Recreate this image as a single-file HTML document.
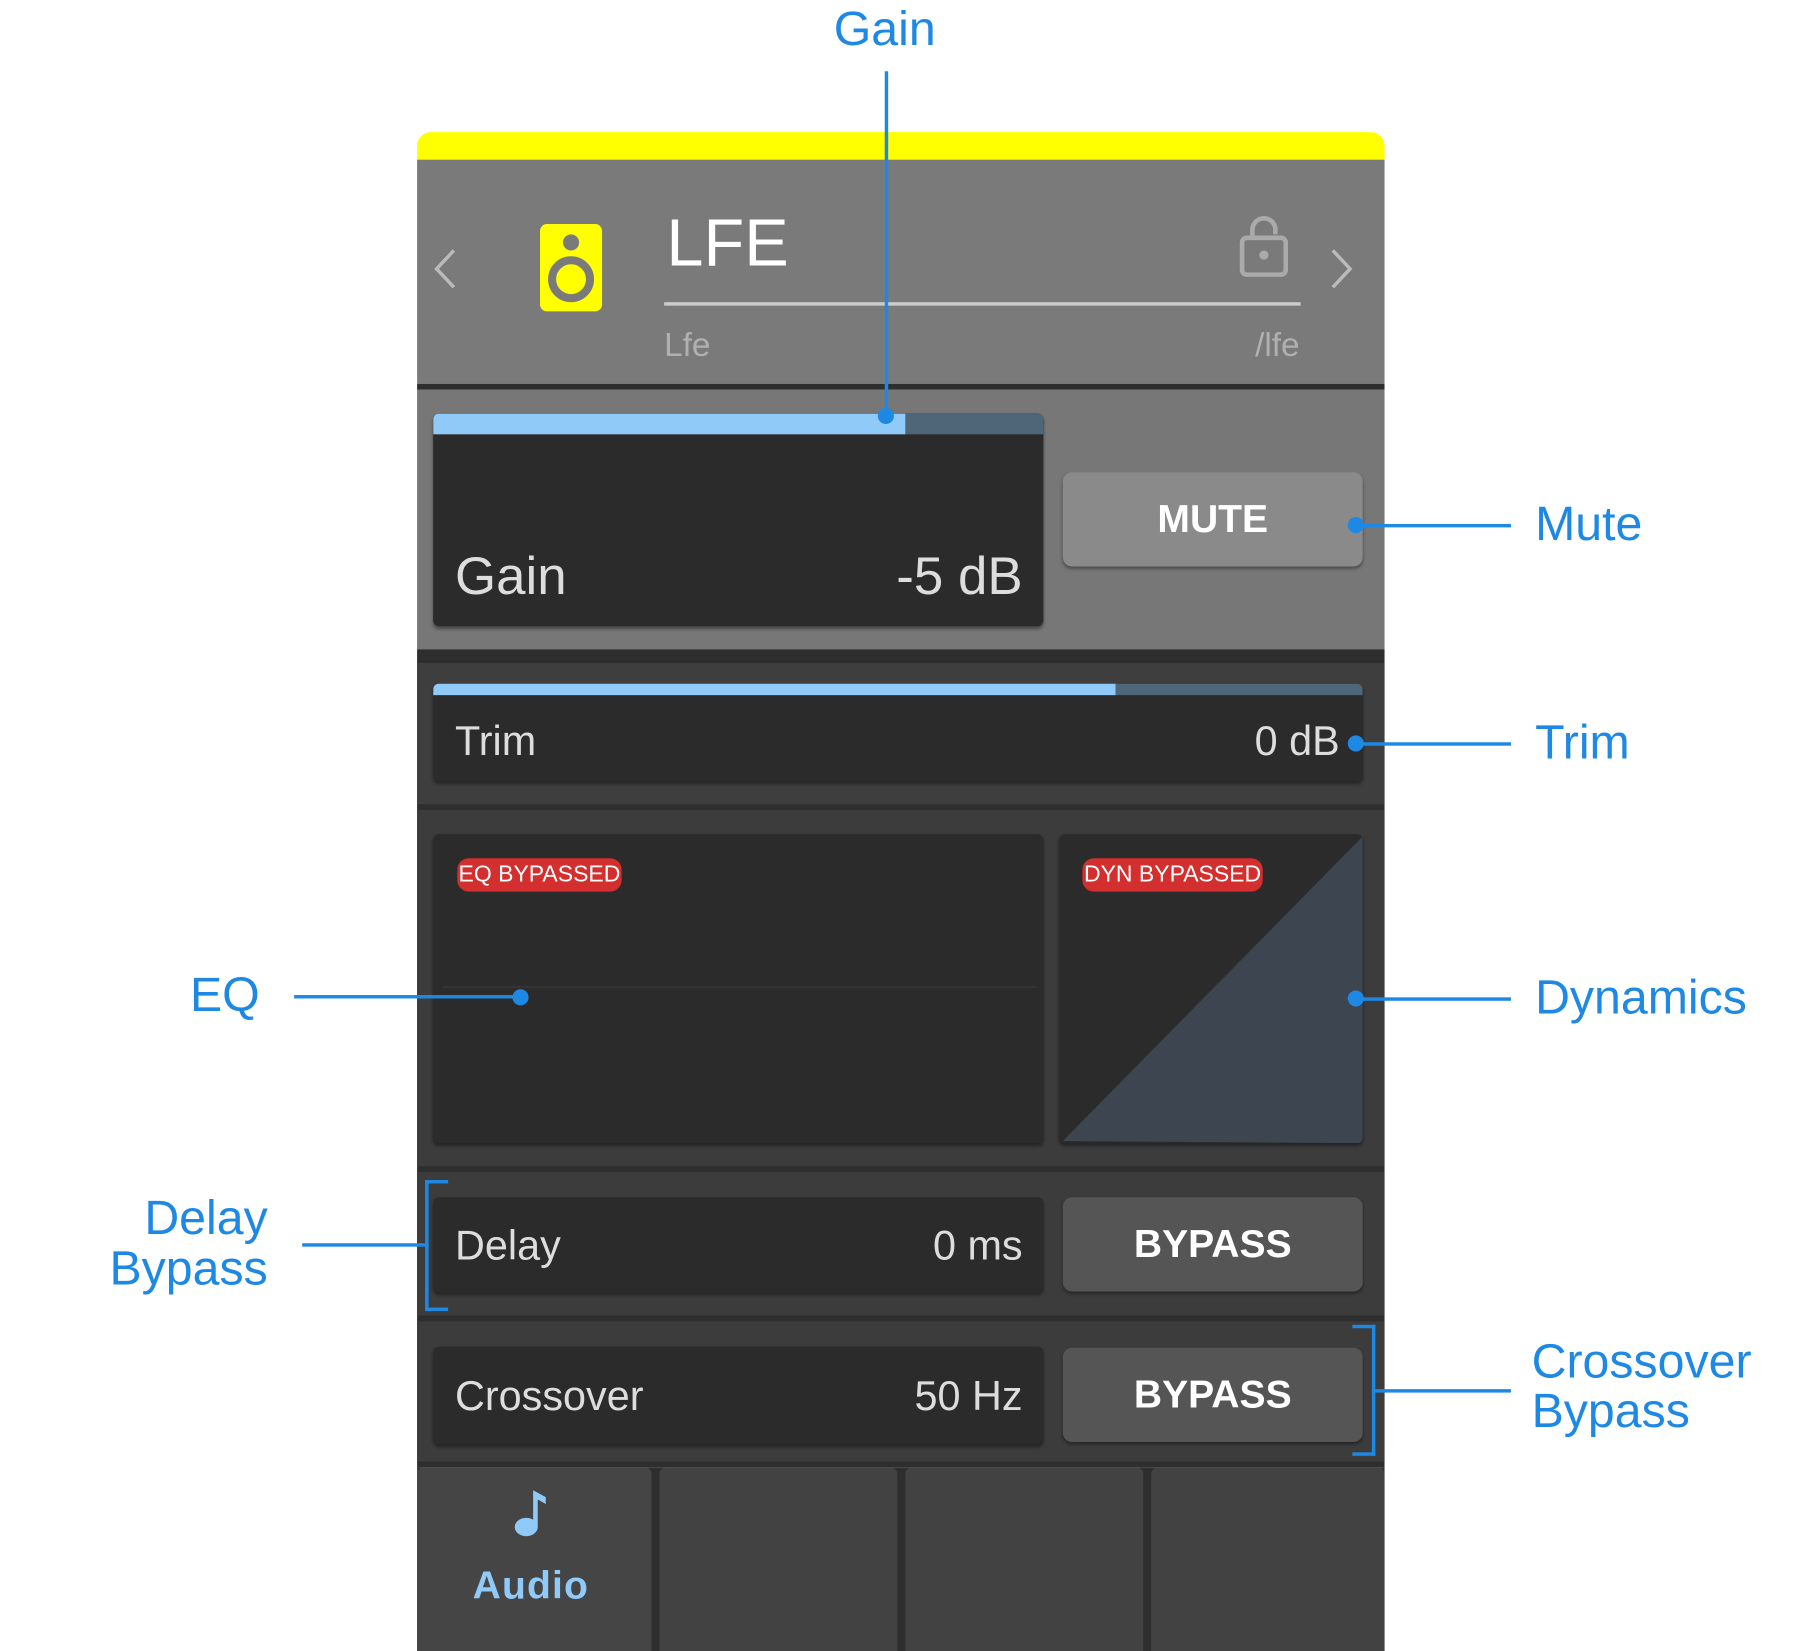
<!DOCTYPE html>
<html><head><meta charset="utf-8"><style>
html,body{margin:0;padding:0;background:#fff;width:1801px;height:1637px;overflow:hidden}
#w{position:absolute;left:0;top:0;width:1570px;height:1430px;transform:scale(1.149,1.149);transform-origin:0 0;font-family:"Liberation Sans",sans-serif}
.a{position:absolute}
.t{position:absolute;white-space:nowrap;line-height:1}
.bl{color:#1e88e5;font-size:42px}
.ln{position:absolute;background:#1e88e5}
.dot{position:absolute;width:14px;height:14px;border-radius:50%;background:#1e88e5;margin:-7px 0 0 -7px}
.box{position:absolute;background:#2b2b2b;border-radius:5px;box-shadow:0 2px 3px rgba(0,0,0,.4)}
.btn{position:absolute;border-radius:8px;color:#fff;font-weight:bold;font-size:34px;display:flex;align-items:center;justify-content:center;box-shadow:0 2px 3px rgba(0,0,0,.35)}
.badge{position:absolute;background:#d32f2f;color:#fff;font-size:20px;border-radius:10px;height:29px;line-height:29px;text-align:center}
</style></head><body><div id="w">
<div class="a" style="left:363px;top:115px;width:842px;height:30px;background:#ffff00;border-radius:12px 12px 0 0"></div>
<div class="a" style="left:363px;top:139px;width:842px;height:195px;background:#7a7a7a"></div>
<div class="a" style="left:363px;top:334px;width:842px;height:5px;background:#2e2e2e"></div>
<div class="a" style="left:363px;top:339px;width:842px;height:226px;background:#777"></div>
<div class="a" style="left:363px;top:565px;width:842px;height:712px;background:#2e2e2e"></div>
<div class="a" style="left:363px;top:577px;width:842px;height:123px;background:#3e3e3e"></div>
<div class="a" style="left:363px;top:705px;width:842px;height:310px;background:#3c3c3c"></div>
<div class="a" style="left:363px;top:1020px;width:842px;height:125px;background:#3c3c3c"></div>
<div class="a" style="left:363px;top:1150px;width:842px;height:122px;background:#3c3c3c"></div>
<div class="a" style="left:363px;top:1277px;width:842px;height:160px;background:#2e2e2e"></div>
<svg class="a" style="left:375px;top:210px" width="30" height="50"><polyline points="20,8 5,24 20,40" fill="none" stroke="#bbb" stroke-width="3"/></svg>
<svg class="a" style="left:1152px;top:210px" width="30" height="50"><polyline points="8,8 23,24 8,40" fill="none" stroke="#bbb" stroke-width="3"/></svg>
<div class="a" style="left:470px;top:195px;width:54px;height:76px;background:#ffff00;border-radius:6px"></div>
<div class="a" style="left:490px;top:204px;width:14px;height:14px;border-radius:50%;background:#7a7a7a"></div>
<div class="a" style="left:477px;top:223px;width:26px;height:26px;border-radius:50%;border:7px solid #7a7a7a;background:#ffff00"></div>
<div class="t" style="left:580px;top:183px;font-size:58px;color:#fff">LFE</div>
<div class="a" style="left:578px;top:263px;width:554px;height:3px;background:#ccc"></div>
<svg class="a" style="left:1076px;top:184px" width="50" height="60"><path d="M14 24 V16 a10 10 0 0 1 20 0 V20" fill="none" stroke="#aaa" stroke-width="4"/><rect x="5" y="23" width="38" height="32" rx="4" fill="none" stroke="#aaa" stroke-width="4"/><circle cx="24" cy="38" r="4" fill="#aaa"/></svg>
<div class="t" style="left:578px;top:287px;font-size:29px;color:#b0b0b0">Lfe</div>
<div class="t" style="left:1031px;width:100px;text-align:right;top:287px;font-size:29px;color:#b0b0b0">/lfe</div>
<div class="box" style="left:377px;top:360px;width:531px;height:185px;overflow:hidden">
 <div class="a" style="left:0;top:0;width:411px;height:18px;background:#90caf9"></div>
 <div class="a" style="left:411px;top:0;width:120px;height:18px;background:#4f6578"></div>
</div>
<div class="t" style="left:396px;top:478px;font-size:46px;color:#ddd">Gain</div>
<div class="t" style="left:690px;width:200px;text-align:right;top:478px;font-size:46px;color:#ddd">-5 dB</div>
<div class="btn" style="left:925px;top:411px;width:261px;height:82px;background:#8a8a8a">MUTE</div>
<div class="box" style="left:377px;top:595px;width:809px;height:85px;overflow:hidden">
 <div class="a" style="left:0;top:0;width:594px;height:10px;background:#90caf9"></div>
 <div class="a" style="left:594px;top:0;width:215px;height:10px;background:#4f6578"></div>
</div>
<div class="t" style="left:396px;top:627px;font-size:36px;color:#ddd">Trim</div>
<div class="t" style="left:966px;width:200px;text-align:right;top:627px;font-size:36px;color:#ddd">0 dB</div>
<div class="box" style="left:377px;top:726px;width:531px;height:269px"></div>
<div class="a" style="left:385px;top:858px;width:517px;height:2px;background:#333"></div>
<div class="badge" style="left:398px;top:747px;width:143px">EQ BYPASSED</div>
<div class="box" style="left:922px;top:726px;width:264px;height:269px;overflow:hidden"><svg width="264" height="269" class="a" style="left:0;top:0"><polygon points="3,267 264,2 264,269" fill="#3d4650"/></svg></div>
<div class="badge" style="left:942px;top:747px;width:157px">DYN BYPASSED</div>
<div class="box" style="left:377px;top:1042px;width:531px;height:83px"></div>
<div class="t" style="left:396px;top:1066px;font-size:36px;color:#ddd">Delay</div>
<div class="t" style="left:690px;width:200px;text-align:right;top:1066px;font-size:36px;color:#ddd">0 ms</div>
<div class="btn" style="left:925px;top:1042px;width:261px;height:82px;background:#555">BYPASS</div>
<div class="box" style="left:377px;top:1172px;width:531px;height:85px"></div>
<div class="t" style="left:396px;top:1197px;font-size:36px;color:#ddd">Crossover</div>
<div class="t" style="left:690px;width:200px;text-align:right;top:1197px;font-size:36px;color:#ddd">50 Hz</div>
<div class="btn" style="left:925px;top:1173px;width:261px;height:82px;background:#555">BYPASS</div>
<div class="a" style="left:363px;top:1277px;width:204px;height:160px;background:#454545;border-radius:6px 6px 0 0"></div>
<div class="a" style="left:574px;top:1277px;width:207px;height:160px;background:#424242;border-radius:6px 6px 0 0"></div>
<div class="a" style="left:788px;top:1277px;width:207px;height:160px;background:#424242;border-radius:6px 6px 0 0"></div>
<div class="a" style="left:1002px;top:1277px;width:203px;height:160px;background:#424242;border-radius:6px 6px 0 0"></div>
<svg class="a" style="left:445px;top:1293px" width="36" height="48"><ellipse cx="13" cy="36" rx="10" ry="8" fill="#90caf9"/><path d="M19 36 V4 L30 10 V16 L23 12 V36Z" fill="#90caf9"/></svg>
<div class="t" style="left:362px;width:200px;text-align:center;top:1363px;font-size:34px;font-weight:bold;color:#90caf9;letter-spacing:1px">Audio</div>
<div class="t bl" style="left:670px;width:200px;text-align:center;top:4px">Gain</div>
<div class="ln" style="left:770px;top:62px;width:3px;height:300px"></div>
<div class="dot" style="left:771px;top:362px"></div>
<div class="t bl" style="left:1336px;top:435px">Mute</div>
<div class="ln" style="left:1180px;top:456px;width:135px;height:3px"></div>
<div class="dot" style="left:1180px;top:457px"></div>
<div class="t bl" style="left:1336px;top:625px">Trim</div>
<div class="ln" style="left:1180px;top:646px;width:135px;height:3px"></div>
<div class="dot" style="left:1180px;top:647px"></div>
<div class="t bl" style="left:1336px;top:847px">Dynamics</div>
<div class="ln" style="left:1180px;top:868px;width:135px;height:3px"></div>
<div class="dot" style="left:1180px;top:869px"></div>
<div class="t bl" style="left:26px;width:200px;text-align:right;top:845px">EQ</div>
<div class="ln" style="left:256px;top:866px;width:197px;height:3px"></div>
<div class="dot" style="left:453px;top:868px"></div>
<div class="t bl" style="left:33px;width:200px;text-align:right;top:1039px">Delay</div>
<div class="t bl" style="left:33px;width:200px;text-align:right;top:1083px">Bypass</div>
<div class="ln" style="left:263px;top:1082px;width:109px;height:3px"></div>
<div class="ln" style="left:370px;top:1027px;width:3px;height:114px"></div>
<div class="ln" style="left:370px;top:1027px;width:20px;height:3px"></div>
<div class="ln" style="left:370px;top:1138px;width:20px;height:3px"></div>
<div class="ln" style="left:1194px;top:1153px;width:3px;height:114px"></div>
<div class="ln" style="left:1177px;top:1153px;width:20px;height:3px"></div>
<div class="ln" style="left:1177px;top:1264px;width:20px;height:3px"></div>
<div class="ln" style="left:1194px;top:1209px;width:121px;height:3px"></div>
<div class="t bl" style="left:1333px;top:1164px">Crossover</div>
<div class="t bl" style="left:1333px;top:1207px">Bypass</div>
</div></body></html>
